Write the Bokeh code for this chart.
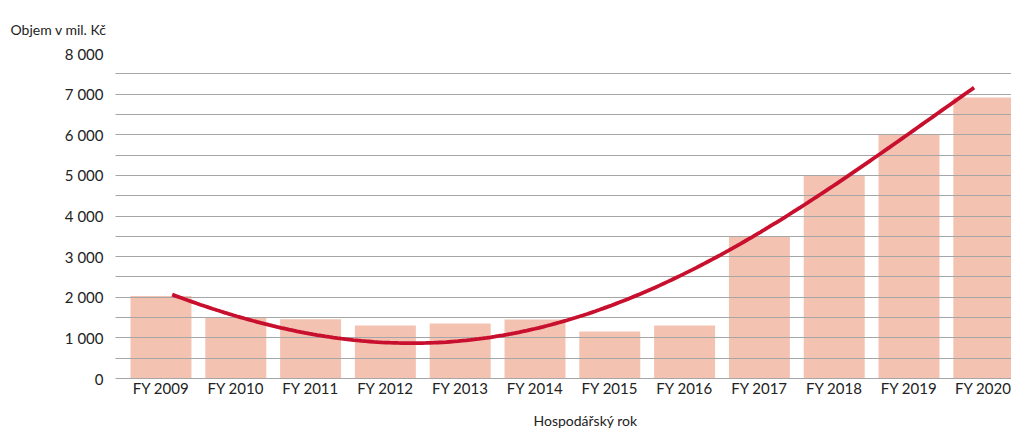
import numpy as np
from bokeh.plotting import figure
from bokeh.models import FixedTicker, Title, ColumnDataSource
from bokeh.embed import file_html
from bokeh.resources import INLINE

categories = ["FY 2009", "FY 2010", "FY 2011", "FY 2012", "FY 2013", "FY 2014",
              "FY 2015", "FY 2016", "FY 2017", "FY 2018", "FY 2019", "FY 2020"]
volumes = [2030, 1500, 1460, 1305, 1354, 1450, 1157, 1305, 3500, 5000, 6000, 6920]
# trend line values at each category
trend = [2175, 1510, 1120, 935, 903, 1180, 1755, 2600, 3670, 4760, 5940, 7365]
y_ticks = [0, 1000, 2000, 3000, 4000, 5000, 6000, 7000, 8000]
y_label = "Objem v mil. Kč"
x_label = "Hospodářský rok"

FONT = "Lato"
xs = list(range(len(categories)))

p = figure(width=1011, height=430, output_backend="svg", toolbar_location=None,
           x_range=(-0.608, 11.37), y_range=(0, 8000),
           min_border_left=115, min_border_right=0, min_border_top=53, min_border_bottom=52)
p.outline_line_color = None
p.background_fill_color = "white"

src = ColumnDataSource(dict(x=xs, top=volumes))
p.vbar(x="x", top="top", width=0.815, source=src, fill_color="#F4C2B1", line_color=None)

coef = np.polyfit(xs, trend, 4)
tx = np.linspace(0.15, 10.87, 200)
ty = np.polyval(coef, tx)
line = p.line(tx, ty, line_color="#C8102E", line_width=3.8)
line.level = "annotation"

p.xgrid.visible = False
p.ygrid.ticker = FixedTicker(ticks=list(range(500, 8001, 500)))
p.ygrid.grid_line_color = "#A6A6A6"
p.ygrid.grid_line_width = 1
p.ygrid.level = "guide"

p.xaxis.ticker = FixedTicker(ticks=xs)
p.xaxis.major_label_overrides = {i: c for i, c in enumerate(categories)}
p.xaxis.axis_line_color = "#A6A6A6"
p.xaxis.major_tick_line_color = None
p.xaxis.major_tick_out = 0
p.xaxis.minor_tick_line_color = None
p.xaxis.major_label_text_font = FONT
p.xaxis.major_label_text_font_size = "15px"
p.xaxis.major_label_text_color = "#222222"
p.xaxis.major_label_standoff = 0

p.yaxis.ticker = FixedTicker(ticks=y_ticks)
p.yaxis.major_label_overrides = {t: f"{t:,}".replace(",", " ") for t in y_ticks}
p.yaxis.axis_line_color = None
p.yaxis.major_tick_line_color = None
p.yaxis.major_tick_out = 0
p.yaxis.minor_tick_line_color = None
p.yaxis.major_label_text_font = FONT
p.yaxis.major_label_text_font_size = "15px"
p.yaxis.major_label_text_color = "#222222"
p.yaxis.major_label_standoff = 12

top_title = Title(text=y_label, align="left", offset=-105, text_font=FONT,
                  text_font_size="14px", text_font_style="normal", text_color="#222222",
                  standoff=32, text_line_height=0.7)
p.add_layout(top_title, "above")
spacer = Title(text=" ", text_font_size="1px", standoff=7)
p.add_layout(spacer, "below")
bottom_title = Title(text=x_label, align="left", offset=418, text_font=FONT,
                     text_font_size="14px", text_font_style="normal", text_color="#222222",
                     standoff=0)
p.add_layout(bottom_title, "below")

open("out.html", "w").write(file_html(p, INLINE))
